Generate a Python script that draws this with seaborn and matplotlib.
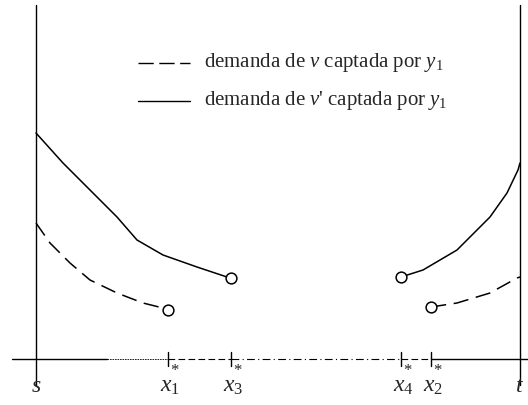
import matplotlib
matplotlib.use("Agg")
import matplotlib.pyplot as plt
import seaborn as sns
import pandas as pd

sns.set_style("white")
plt.rcParams["font.family"] = ["Liberation Serif", "DejaVu Serif"]
plt.rcParams["mathtext.fontset"] = "custom"
plt.rcParams["mathtext.rm"] = "Liberation Serif"
plt.rcParams["mathtext.it"] = "Liberation Serif:italic"

# critical points along the segment s -> t (s = 0, t = 484)
s_pos, t_pos = 0, 484
x1_star, x3_star, x4_star, x2_star = 132, 195, 365, 395

# demand of v captured by y1 (dashed)
v_left_x = [0, 14, 34, 54, 81, 107, 127, x1_star]
v_left_y = [136, 116, 96, 79, 66, 56, 51, 49]
v_right_x = [x2_star, 421, 454, 481, t_pos]
v_right_y = [52, 56, 66, 81, 82]

# demand of v' captured by y1 (solid)
vp_left_x = [0, 27, 61, 81, 101, 127, 161, 191, x3_star]
vp_left_y = [226, 196, 162, 142, 119, 104, 92, 82, 81]
vp_right_x = [x4_star, 387, 421, 454, 471, 482, t_pos]
vp_right_y = [82, 89, 109, 142, 166, 189, 196]

star_ticks = [x1_star, x3_star, x4_star, x2_star]
star_labels = ["$x_1$", "$x_3$", "$x_4$", "$x_2$"]

fig = plt.figure(figsize=(5.28, 4.05), dpi=100)
ax = fig.add_axes([0, 0, 1, 1])
ax.set_xlim(-36, 492)
ax.set_ylim(-46, 359)
ax.axis("off")

# vertical boundaries at s and t
for xv in (s_pos, t_pos):
    ax.plot([xv, xv], [-26, 354], color="black", lw=1.0)

# horizontal axis, styled by section
ax.plot([-24, 71], [0, 0], color="black", lw=1.0)
ax.plot([71, x1_star], [0, 0], color="black", lw=0.6, ls=(0, (2, 1)))
ax.plot([x1_star, x3_star], [0, 0], color="black", lw=0.8, ls=(0, (6, 3)))
ax.plot([x3_star, x4_star], [0, 0], color="black", lw=0.8, ls=(0, (7, 3, 1, 3)))
ax.plot([x4_star, x2_star], [0, 0], color="black", lw=0.8, ls=(0, (6, 3)))
ax.plot([x2_star, 492], [0, 0], color="black", lw=1.0)
for xt in star_ticks:
    ax.plot([xt, xt], [-7, 7], color="black", lw=1.0)

for xs, ys in ((v_left_x, v_left_y), (v_right_x, v_right_y)):
    sns.lineplot(x=xs, y=ys, sort=False, color="black", lw=1.1, ax=ax)
    ax.lines[-1].set_dashes((10, 5))
for xs, ys in ((vp_left_x, vp_left_y), (vp_right_x, vp_right_y)):
    sns.lineplot(x=xs, y=ys, sort=False, color="black", lw=1.1, ax=ax)

# open endpoints
ends = pd.DataFrame({
    "x": [v_left_x[-1], v_right_x[0], vp_left_x[-1], vp_right_x[0]],
    "y": [v_left_y[-1], v_right_y[0], vp_left_y[-1], vp_right_y[0]],
})
sns.scatterplot(data=ends, x="x", y="y", s=60, facecolor="white",
                edgecolor="black", linewidth=1.1, zorder=5, ax=ax)

# axis labels
lab_y = -33
ax.text(s_pos, lab_y, "$s$", fontsize=17, ha="center", va="baseline")
ax.text(t_pos, lab_y, "$t$", fontsize=17, ha="center", va="baseline")
for xt, lab in zip(star_ticks, star_labels):
    ax.text(xt + 2, lab_y, lab, fontsize=17, ha="center", va="baseline")
    ax.text(xt + 7, -10, "$*$", fontsize=12, ha="center", va="center")

# legend
ax.plot([102, 154], [296, 296], color="black", lw=1.0, ls=(0, (11, 4)))
ax.plot([102, 154], [258, 258], color="black", lw=1.0)
ax.text(168, 296, "demanda de $v$ captada por $y_1$", fontsize=15, va="center")
ax.text(168, 258, "demanda de $v$' captada por $y_1$", fontsize=15, va="center")

fig.savefig("out.png", dpi=100)
